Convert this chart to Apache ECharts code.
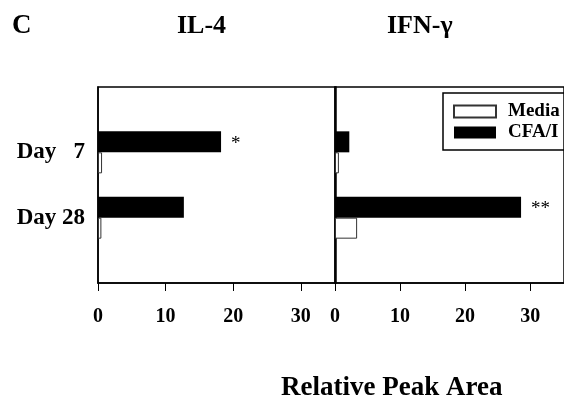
<!DOCTYPE html>
<html>
<head>
<meta charset="utf-8">
<script src="https://cdn.jsdelivr.net/npm/echarts@6/dist/echarts.min.js"></script>
<style>
  html, body { margin: 0; padding: 0; background: #fff; }
  #chart { width: 564px; height: 399px; }
</style>
</head>
<body>
<div id="chart"></div>
<script>
// data
var days = ['', 'Day 7', 'Day 28', ''];
var il4Cfa = ['-', 18.2, 12.7, '-'];
var il4Media = ['-', 0.6, 0.5, '-'];
var ifnCfa = ['-', 2.2, 28.6, '-'];
var ifnMedia = ['-', 0.6, 3.4, '-'];
var il4Marks = ['', '*', '', ''];
var ifnMarks = ['', '', '**', ''];
var xTicks = [0, 10, 20, 30];

var serif = 'Liberation Serif';
var myChart = echarts.init(document.getElementById('chart'));

function xAxisFor(idx) {
    return {
        gridIndex: idx,
        type: 'value',
        min: xTicks[0],
        max: 35.2,
        interval: xTicks[1] - xTicks[0],
        splitLine: { show: false },
        axisLine: { show: true, lineStyle: { color: '#000', width: 1.5 } },
        axisTick: { show: true, length: 8, lineStyle: { color: '#000', width: 1 } },
        axisLabel: {
            margin: 24,
            showMaxLabel: false,
            color: '#000',
            fontFamily: serif,
            fontWeight: 'bold',
            fontSize: 20
        }
    };
}

function yAxisFor(idx, showLabels) {
    return {
        gridIndex: idx,
        type: 'category',
        inverse: true,
        boundaryGap: false,
        data: days,
        axisLine: { show: true, lineStyle: { color: '#000', width: 1.5 } },
        axisTick: { show: false },
        splitLine: { show: false },
        axisLabel: {
            show: showLabels,
            margin: 13,
            color: '#000',
            fontFamily: serif,
            fontWeight: 'bold',
            fontSize: 23,
            formatter: function (v) { return v.replace(/ (\d)$/, '   $1'); }
        }
    };
}

function marks(arr) {
    return {
        show: true,
        position: 'right',
        distance: 10,
        offset: [0, 2],
        color: '#000',
        fontFamily: serif,
        fontSize: 19,
        formatter: function (p) { return arr[p.dataIndex]; }
    };
}

var cfaStyle = { color: '#000' };
var mediaStyle = { color: '#fff', borderColor: '#333', borderWidth: 1 };

option = {
    backgroundColor: '#fff',
    animation: false,
    title: [
        { text: 'C', left: 12, top: 13, padding: 0, textStyle: { fontFamily: serif, fontWeight: 'bold', fontSize: 27, color: '#000' } },
        { text: 'IL-4', left: 177, top: 13, padding: 0, textStyle: { fontFamily: serif, fontWeight: 'bold', fontSize: 26, color: '#000' } },
        { text: 'IFN-γ', left: 387, top: 13, padding: 0, textStyle: { fontFamily: serif, fontWeight: 'bold', fontSize: 26, color: '#000' } },
        { text: 'Relative Peak Area', left: 281, top: 375, padding: 0, textStyle: { fontFamily: serif, fontWeight: 'bold', fontSize: 27, color: '#000' } }
    ],
    legend: {
        data: ['Media', 'CFA/I'],
        orient: 'vertical',
        left: 443,
        top: 93,
        padding: [9, 60, 8, 10],
        borderColor: '#000',
        borderWidth: 1.5,
        icon: 'rect',
        itemWidth: 42,
        itemHeight: 12,
        itemGap: 2,
        textStyle: { fontFamily: serif, fontWeight: 'bold', fontSize: 19, color: '#000', padding: [0, 0, 0, 7] }
    },
    grid: [
        { left: 98, top: 87, width: 238, height: 196, show: true, borderColor: '#000', borderWidth: 1.5 },
        { left: 335, top: 87, width: 238, height: 196, show: true, borderColor: '#000', borderWidth: 1.5 }
    ],
    xAxis: [xAxisFor(0), xAxisFor(1)],
    yAxis: [yAxisFor(0, true), yAxisFor(1, false)],
    series: [
        { name: 'CFA/I', type: 'bar', xAxisIndex: 0, yAxisIndex: 0, data: il4Cfa, barWidth: 21, barGap: 0, itemStyle: cfaStyle, label: marks(il4Marks) },
        { name: 'Media', type: 'bar', xAxisIndex: 0, yAxisIndex: 0, data: il4Media, barWidth: 21, barGap: 0, itemStyle: mediaStyle },
        { name: 'CFA/I', type: 'bar', xAxisIndex: 1, yAxisIndex: 1, data: ifnCfa, barWidth: 21, barGap: 0, itemStyle: cfaStyle, label: marks(ifnMarks) },
        { name: 'Media', type: 'bar', xAxisIndex: 1, yAxisIndex: 1, data: ifnMedia, barWidth: 21, barGap: 0, itemStyle: mediaStyle }
    ]
};

myChart.setOption(option);
</script>
</body>
</html>
